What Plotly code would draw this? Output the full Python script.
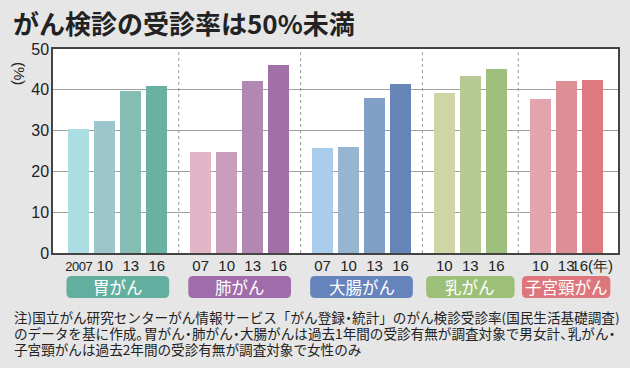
import plotly.graph_objects as go

# ---- data ----
group_names = ["胃がん", "肺がん", "大腸がん", "乳がん", "子宮頸がん"]
years_stomach = ["2007", "10", "13", "16"]
years_lung = ["07", "10", "13", "16"]
years_colon = ["07", "10", "13", "16"]
years_breast = ["10", "13", "16"]
years_cervix = ["10", "13", "16(年)"]
rate_stomach = [30.3, 32.3, 39.7, 40.9]
rate_lung = [24.8, 24.8, 42.2, 46.2]
rate_colon = [25.8, 26.0, 37.9, 41.5]
rate_breast = [39.1, 43.4, 45.0]
rate_cervix = [37.7, 42.1, 42.3]

title_text = "がん検診の受診率は50%未満"
note_lines = [
    "注)国立がん研究センターがん情報サービス「がん登録・統計」のがん検診受診率(国民生活基礎調査)",
    "のデータを基に作成。胃がん・肺がん・大腸がんは過去1年間の受診有無が調査対象で男女計、乳がん・",
    "子宮頸がんは過去2年間の受診有無が調査対象で女性のみ",
]

# ---- styles ----
bar_colors = [
    ["#acdde3", "#9cc6cc", "#85bdb5", "#69b2a3"],
    ["#e2b5c7", "#c99cbc", "#b287b1", "#a070a6"],
    ["#aacdec", "#96b5d0", "#82a0c5", "#6784b6"],
    ["#d0d5a5", "#b8ca94", "#9ebf7e"],
    ["#e3a4ae", "#de8e95", "#dc7a80"],
]
box_colors = ["#62af9f", "#a06ca9", "#6484bb", "#9dc079", "#de777d"]

years = [years_stomach, years_lung, years_colon, years_breast, years_cervix]
rates = [rate_stomach, rate_lung, rate_colon, rate_breast, rate_cervix]

W, H = 630, 368
ML, MR, MT, MB = 53, 12, 49, 115
PW, PH = W - ML - MR, H - MT - MB
PITCH = 26.0
XMAX = PW / PITCH
END_PAD = 0.15
nbars = sum(len(r) for r in rates)
GAP = (XMAX - nbars - 2 * END_PAD) / len(rates)

def px2px(px):
    return (px - ML) / PW

def py2py(py):
    return (MT + PH - py) / PH

def tight_punct(s):
    sp = [0.0] * len(s)
    for i, ch in enumerate(s):
        if ch == "・":
            sp[i] -= 3.2
            if i > 0:
                sp[i - 1] -= 3.2
        elif ch in "。、":
            sp[i] -= 6
    out = []
    for ch, v in zip(s, sp):
        if v:
            out.append(f'<span style="letter-spacing:{v}px">{ch}</span>')
        else:
            out.append(ch)
    return "".join(out)

fig = go.Figure()
tickvals, ticktext = [], []
shapes = []
annotations = []
start = END_PAD
for g, (ys, rs) in enumerate(zip(years, rates)):
    n = len(rs)
    xs = [start + GAP / 2 + 0.5 + i for i in range(n)]
    fig.add_trace(go.Bar(x=xs, y=rs, width=0.81, marker=dict(color=bar_colors[g], line=dict(width=0)),
                         showlegend=False, hoverinfo="x+y"))
    for x, y in zip(xs, ys):
        tickvals.append(x)
        if y == "2007":
            ticktext.append("<span style=\"font-size:13px;letter-spacing:-0.5px\">2007</span>")
        else:
            ticktext.append(y)
    end = start + n + GAP
    if g < len(rates) - 1:
        shapes.append(dict(type="line", xref="x", yref="paper", x0=end, x1=end, y0=0, y1=1,
                           line=dict(color="#9a9a9a", width=1, dash="dot"), layer="below"))
    # rounded label box
    cx = (xs[0] + xs[-1]) / 2
    bw = 0.55 * n + 1.75
    x0 = px2px(ML + (cx - bw / 2) * PITCH)
    x1 = px2px(ML + (cx + bw / 2) * PITCH)
    y0 = py2py(298)
    y1 = py2py(276)
    rx = 5 / PW
    ry = 5 / PH
    path = (f"M {x0+rx},{y1} L {x1-rx},{y1} Q {x1},{y1} {x1},{y1-ry} L {x1},{y0+ry} "
            f"Q {x1},{y0} {x1-rx},{y0} L {x0+rx},{y0} Q {x0},{y0} {x0},{y0+ry} "
            f"L {x0},{y1-ry} Q {x0},{y1} {x0+rx},{y1} Z")
    shapes.append(dict(type="path", xref="paper", yref="paper", path=path,
                       fillcolor=box_colors[g], line=dict(width=0)))
    annotations.append(dict(x=(x0 + x1) / 2, y=(y0 + y1) / 2, xref="paper", yref="paper",
                            text=group_names[g], showarrow=False, xanchor="center", yanchor="middle",
                            font=dict(family="Noto Sans CJK JP", size=16.5, color="white")))
    start = end

# title
annotations.append(dict(x=px2px(11), y=py2py(22), xref="paper", yref="paper", text=f"<b>{title_text}</b>",
                        showarrow=False, xanchor="left", yanchor="middle",
                        font=dict(family="Noto Sans CJK JP", size=26, color="#222222")))
# unit label (vertical)
annotations.append(dict(x=px2px(20), y=py2py(73), xref="paper", yref="paper", text="(%)",
                        textangle=90, showarrow=False, xanchor="center", yanchor="middle",
                        font=dict(family="Liberation Sans", size=15, color="#222222")))
# note
for line, yy in zip(note_lines, [317, 333, 349]):
    annotations.append(dict(x=px2px(12), y=py2py(yy), xref="paper", yref="paper", text=tight_punct(line),
                            showarrow=False, xanchor="left", yanchor="middle", align="left",
                            height=16, valign="middle",
                            font=dict(family="Noto Sans CJK JP", size=13.6, color="#222222")))

fig.update_layout(
    width=W, height=H,
    margin=dict(l=ML, r=MR, t=MT, b=MB, pad=0),
    paper_bgcolor="#e6e6e7", plot_bgcolor="white",
    bargap=0,
    shapes=shapes, annotations=annotations,
    xaxis=dict(range=[0, XMAX], tickmode="array", tickvals=tickvals, ticktext=ticktext,
               showgrid=False, zeroline=False, showline=True, linecolor="#444444", linewidth=1.5,
               mirror=True, ticks="", ticklabelstandoff=-2, tickangle=0, automargin=False,
               tickfont=dict(family="Liberation Sans", size=15, color="#222222")),
    yaxis=dict(range=[0, 50], dtick=10, showgrid=True, gridcolor="#a0a0a0", gridwidth=1,
               zeroline=False, showline=True, linecolor="#444444", linewidth=1.5, mirror=True,
               ticks="", ticklabelstandoff=-1, automargin=False,
               tickfont=dict(family="Liberation Sans", size=16, color="#222222")),
)

fig.write_html("out.html", config={"displayModeBar": False},
               post_script="document.body.style.margin='0';")
